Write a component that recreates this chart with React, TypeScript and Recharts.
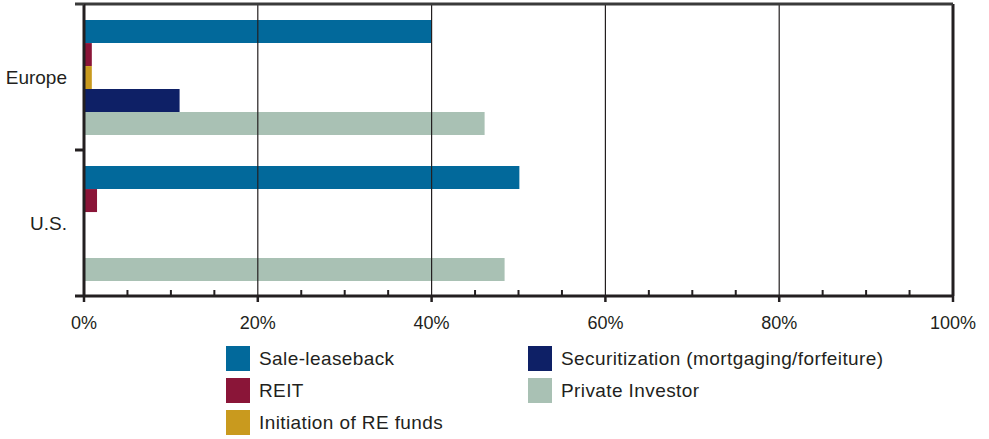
import React from "react"
import { BarChart, Bar, XAxis, YAxis, ReferenceLine } from "recharts"

const regions = ["Europe", "U.S."]
const saleLeaseback = [40, 50.1]
const reit = [0.9, 1.5]
const reFunds = [0.9, 0]
const securitization = [11, 0]
const privateInvestor = [46.1, 48.4]
const xTicks = [0, 5, 10, 15, 20, 25, 30, 35, 40, 45, 50, 55, 60, 65, 70, 75, 80, 85, 90, 95, 100]
const gridValues = [20, 40, 60, 80]

const series = [
  { key: "saleLeaseback", name: "Sale-leaseback", color: "#02699b", values: saleLeaseback },
  { key: "reit", name: "REIT", color: "#8a1538", values: reit },
  { key: "reFunds", name: "Initiation of RE funds", color: "#c99a1e", values: reFunds },
  { key: "securitization", name: "Securitization (mortgaging/forfeiture)", color: "#0e2066", values: securitization },
  { key: "privateInvestor", name: "Private Investor", color: "#a9c1b4", values: privateInvestor },
]

const data = regions.map((name, i) => {
  const row: Record<string, string | number> = { name }
  series.forEach((s) => (row[s.key] = s.values[i]))
  return row
})

const W = 989
const H = 439
const TOP = 4
const BOTTOM = 296
const BAND = (BOTTOM - TOP) / regions.length
const INK = "#231f20"
const FONT = "'Liberation Sans', Arial, sans-serif"

const XTick = (props: any) => {
  const { x, y, payload } = props
  const v = payload.value
  const major = v % 20 === 0
  return (
    <g>
      {major ? (
        <line x1={x} x2={x} y1={y} y2={y + 6} stroke={INK} strokeWidth={2.5} />
      ) : (
        <line x1={x} x2={x} y1={y - 6} y2={y} stroke={INK} strokeWidth={2} />
      )}
      {v === 0 && <line x1={x - 9} x2={x} y1={y} y2={y} stroke={INK} strokeWidth={3} />}
      {major && (
        <text x={x} y={y + 27} dy="0.35em" textAnchor="middle" fill={INK} fontSize={18} fontFamily={FONT}>
          {v}%
        </text>
      )}
    </g>
  )
}

const YTick = (props: any) => {
  const { x, y, payload, index } = props
  return (
    <g>
      <text x={x - 17} y={y} dy="0.35em" textAnchor="end" fill={INK} fontSize={19} fontFamily={FONT}>
        {payload.value}
      </text>
      {index === 0 && (
        <>
          <line x1={x - 9} x2={x} y1={y + BAND / 2} y2={y + BAND / 2} stroke={INK} strokeWidth={3} />
          <line x1={x - 9} x2={x} y1={y - BAND / 2} y2={y - BAND / 2} stroke="#3a3a3a" strokeWidth={3} />
        </>
      )}
    </g>
  )
}

const legendCols = [series.filter((_, i) => i < 3), series.filter((_, i) => i >= 3)]

export default function App() {
  return (
    <div style={{ position: "absolute", left: 0, top: 0, width: W, height: H, background: "#fff" }}>
      <BarChart
        width={W}
        height={H}
        data={data}
        layout="vertical"
        margin={{ top: TOP - 1, right: W - 953, left: 0, bottom: 0 }}
        barCategoryGap="11%"
        barGap={0}
      >
        <XAxis
          type="number"
          domain={[0, 100]}
          ticks={xTicks}
          interval={0}
          height={H - BOTTOM}
          tickSize={0}
          tickMargin={0}
          tickLine={false}
          axisLine={{ stroke: INK, strokeWidth: 3 }}
          tick={<XTick />}
        />
        <XAxis
          xAxisId="top"
          orientation="top"
          type="number"
          domain={[0, 100]}
          height={1}
          tick={false}
          tickLine={false}
          axisLine={{ stroke: "#3a3a3a", strokeWidth: 3 }}
        />
        <YAxis
          type="category"
          dataKey="name"
          width={84}
          tickSize={0}
          tickMargin={0}
          tickLine={false}
          axisLine={{ stroke: INK, strokeWidth: 3 }}
          tick={<YTick />}
        />
        {gridValues.map((v) => (
          <ReferenceLine key={v} x={v} stroke={INK} strokeWidth={1.2} />
        ))}
        <ReferenceLine x={100} stroke={INK} strokeWidth={3} />
        {series.map((s) => (
          <Bar key={s.key} dataKey={s.key} name={s.name} fill={s.color} isAnimationActive={false} />
        ))}
      </BarChart>
      {legendCols.map((col, ci) => (
        <div
          key={ci}
          style={{
            position: "absolute",
            left: ci === 0 ? 226 : 528,
            top: 346,
            fontFamily: FONT,
            fontSize: 19,
            letterSpacing: 0.4,
            color: INK,
          }}
        >
          {col.map((s) => (
            <div key={s.key} style={{ display: "flex", alignItems: "center", height: 25, marginBottom: 7 }}>
              <div style={{ width: 24, height: 25, background: s.color, marginRight: 9 }} />
              <span>{s.name}</span>
            </div>
          ))}
        </div>
      ))}
    </div>
  )
}
